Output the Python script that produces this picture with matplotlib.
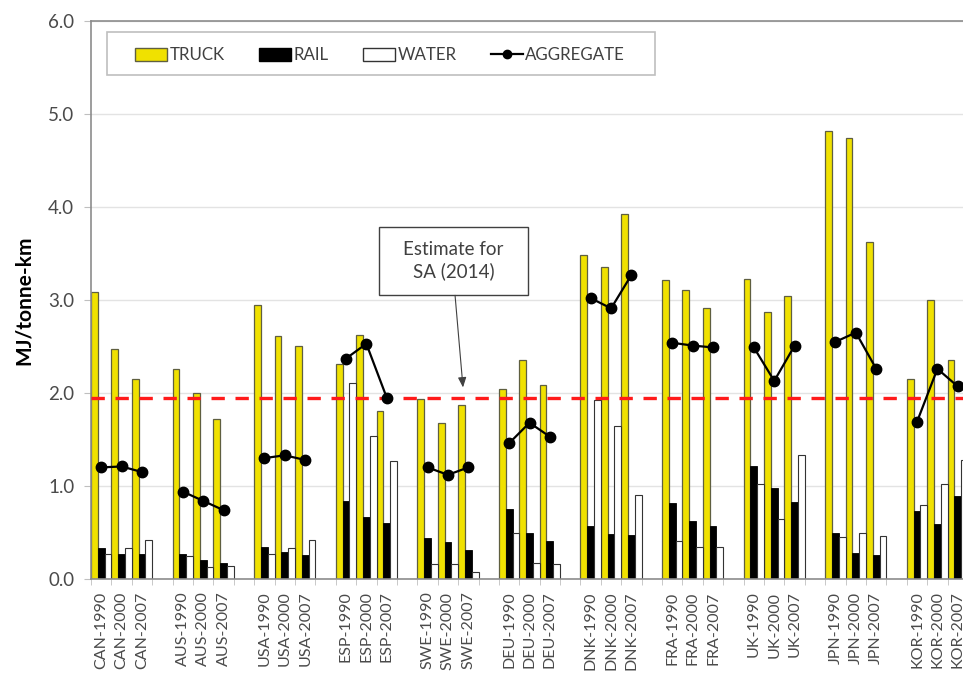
import matplotlib.pyplot as plt
from matplotlib.patches import Patch, Rectangle
from matplotlib.lines import Line2D

plt.rcParams['font.family'] = ['Lato', 'DejaVu Sans']

countries = ['CAN', 'AUS', 'USA', 'ESP', 'SWE', 'DEU', 'DNK', 'FRA', 'UK', 'JPN', 'KOR']
years = ['1990', '2000', '2007']

# values per country, in order 1990, 2000, 2007
truck = [3.09, 2.47, 2.15,  2.26, 2.00, 1.72,  2.95, 2.61, 2.51,  2.31, 2.62, 1.81,
         1.94, 1.68, 1.87,  2.04, 2.35, 2.09,  3.48, 3.36, 3.93,  3.21, 3.11, 2.91,
         3.23, 2.87, 3.04,  4.82, 4.74, 3.62,  2.15, 3.00, 2.35]
rail = [0.33, 0.27, 0.27,  0.27, 0.20, 0.17,  0.34, 0.29, 0.26,  0.84, 0.67, 0.60,
        0.44, 0.40, 0.31,  0.75, 0.50, 0.41,  0.57, 0.48, 0.47,  0.82, 0.62, 0.57,
        1.21, 0.98, 0.83,  0.50, 0.28, 0.26,  0.73, 0.59, 0.89]
water = [0.27, 0.33, 0.42,  0.25, 0.13, 0.14,  0.27, 0.33, 0.42,  2.11, 1.54, 1.27,
         0.16, 0.16, 0.07,  0.50, 0.17, 0.16,  1.93, 1.64, 0.90,  0.41, 0.34, 0.34,
         1.02, 0.64, 1.33,  0.45, 0.49, 0.46,  0.80, 1.02, 1.28]
aggregate = [1.20, 1.21, 1.15,  0.94, 0.84, 0.74,  1.30, 1.33, 1.28,  2.37, 2.53, 1.95,
             1.20, 1.12, 1.20,  1.46, 1.68, 1.53,  3.02, 2.91, 3.27,  2.54, 2.51, 2.49,
             2.49, 2.13, 2.51,  2.55, 2.65, 2.26,  1.69, 2.26, 2.07]
sa_estimate = 1.95

labels = [c + '-' + y for c in countries for y in years]
xpos = [g * 4 + j for g in range(len(countries)) for j in range(3)]

fig = plt.figure(figsize=(9.63, 6.8), dpi=100)
ax = fig.add_axes([91 / 963, 101 / 680, 877 / 963, 558 / 680])

w = 1 / 3
ax.bar([x - w for x in xpos], truck, width=w, color='#F0E100', edgecolor='#5f5f40',
       linewidth=0.9, zorder=2)
ax.bar(xpos, rail, width=w, color='black', edgecolor='black', linewidth=0.6, zorder=2)
ax.bar([x + w for x in xpos], water, width=w, color='white', edgecolor='#333333',
       linewidth=0.8, zorder=2)

ax.axhline(sa_estimate, color='#FF1A1A', linestyle=(0, (4, 3.2)), linewidth=2.4, zorder=3)

for g in range(len(countries)):
    ax.plot(xpos[g * 3:g * 3 + 3], aggregate[g * 3:g * 3 + 3], color='black',
            linewidth=1.6, marker='o', markersize=7.5, zorder=4)

ax.set_xlim(-0.5, 42.5)
ax.set_ylim(0, 6)
ax.set_yticks([0, 1, 2, 3, 4, 5, 6])
ax.set_yticklabels(['%.1f' % v for v in range(7)])
ax.set_xticks(xpos)
ax.set_xticklabels(labels, rotation=90)
ax.set_xticks([x - 0.5 for x in range(44)], minor=True)
ax.tick_params(axis='x', which='major', length=0, pad=9, labelsize=11.5, labelcolor='#4a4a4a')
ax.tick_params(axis='x', which='minor', length=4, color='#bfbfbf')
ax.tick_params(axis='y', length=5, color='#bfbfbf', pad=7, labelsize=13.5, labelcolor='#4a4a4a')
ax.grid(axis='y', color='#e3e3e3', linewidth=1, zorder=0)
ax.set_axisbelow(True)
for s in ax.spines.values():
    s.set_color('#8c8c8c')
    s.set_linewidth(1.2)

ax.set_ylabel('MJ/tonne-km', fontsize=15, fontweight='bold', labelpad=10)

# legend: entries without frame, plus a separate wide frame box
handles = [Patch(facecolor='#F0E100', edgecolor='#5f5f40'),
           Patch(facecolor='black', edgecolor='black'),
           Patch(facecolor='white', edgecolor='#333333'),
           Line2D([], [], color='black', marker='o', markersize=6, linewidth=1.6)]
leg = ax.legend(handles, ['TRUCK', 'RAIL', 'WATER', 'AGGREGATE'], ncol=4,
                loc='center left', bbox_to_anchor=(0.0505, 0.9385), fontsize=12.2,
                frameon=False, handlelength=1.9, handleheight=0.8, handletextpad=0.15,
                columnspacing=2.0, borderpad=0, borderaxespad=0)
for t in leg.get_texts():
    t.set_color('#404040')
ax.add_patch(Rectangle((0.0182, 0.9035), 0.6248, 0.0771, transform=ax.transAxes,
                       facecolor='white', edgecolor='#bfbfbf', linewidth=1.2, zorder=5))
leg.set_zorder(6)

# annotation box with arrow
ax.add_patch(Rectangle((13.62, 3.05), 7.31, 0.735, facecolor='white',
                       edgecolor='#404040', linewidth=1, zorder=5))
ax.text(17.27, 3.42, 'Estimate for\nSA (2014)', ha='center', va='center', fontsize=13.5,
        color='#404040', linespacing=1.3, zorder=6)
ax.annotate('', xy=(17.74, 2.06), xytext=(17.35, 3.05),
            arrowprops=dict(arrowstyle='-|>,head_length=0.6,head_width=0.25',
                            color='#404040', linewidth=0.8, shrinkA=0, shrinkB=0),
            zorder=5)

fig.savefig('out.png', dpi=100)
